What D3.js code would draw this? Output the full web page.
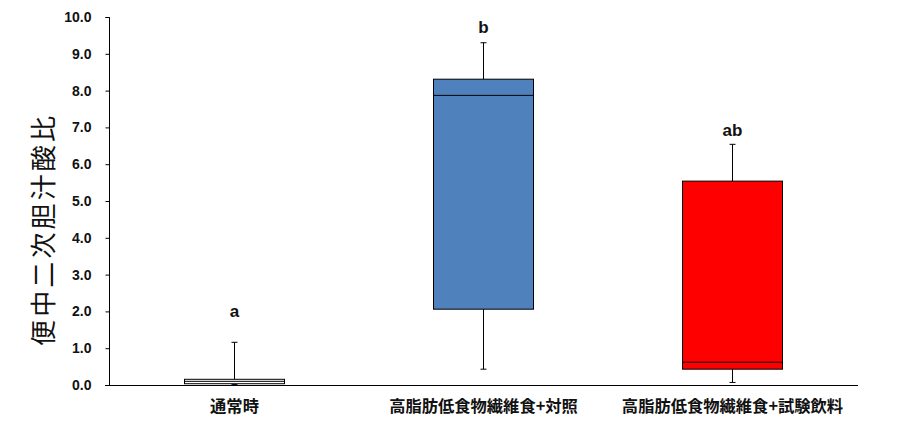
<!DOCTYPE html>
<html><head><meta charset="utf-8">
<script src="https://cdn.jsdelivr.net/npm/d3@7"></script>
<style>body{margin:0;background:#fff}svg{display:block}</style>
</head><body>
<svg id="c" width="906" height="445"></svg>
<script>
const categories = ["通常時", "高脂肪低食物繊維食+対照", "高脂肪低食物繊維食+試験飲料"];
const whiskerLow = [0.01, 0.43, 0.07];
const q1 = [0.035, 2.06, 0.43];
const median = [0.10, 7.87, 0.62];
const q3 = [0.155, 8.31, 5.54];
const whiskerHigh = [1.16, 9.30, 6.54];
const fills = ["#ffffff", "#4F81BD", "#FF0000"];
const sigLetters = ["a", "b", "ab"];
const sigLetterY = [1.86, 9.56, 6.77];
const yTicks = [0,1,2,3,4,5,6,7,8,9,10];
const yLabel = "便中二次胆汁酸比";

const svg = d3.select("#c");
const x = d3.scaleBand().domain(categories).range([109.5, 856.5]).paddingInner(0).paddingOuter(0);
const y = d3.scaleLinear().domain([0, 10]).range([385, 17]);
const boxW = 100, capW = 6;

const yAxis = d3.axisLeft(y).tickValues(yTicks).tickFormat(d3.format(".1f")).tickSize(4).tickPadding(14);
const gy = svg.append("g").attr("transform", "translate(109.5,0)").call(yAxis);
gy.select(".domain").attr("d", "M-4,17.5H0V385.5");
gy.selectAll("text").attr("font-family", "Arial, 'Liberation Sans', sans-serif").attr("font-weight", "bold").attr("font-size", 14).attr("fill", "#111");
gy.selectAll("line,path").attr("stroke", "#000");

svg.append("line").attr("x1", 105).attr("x2", 858).attr("y1", 385.5).attr("y2", 385.5).attr("stroke", "#000");

const data = categories.map((c, i) => ({c, lo: whiskerLow[i], q1: q1[i], med: median[i], q3: q3[i], hi: whiskerHigh[i], fill: fills[i], letter: sigLetters[i], ly: sigLetterY[i]}));

const g = svg.append("g");
data.forEach(d => {
  const cx = Math.round(x(d.c) + x.bandwidth() / 2) + 0.5;
  g.append("line").attr("x1", cx).attr("x2", cx).attr("y1", y(d.q3)).attr("y2", y(d.hi)).attr("stroke", "#000");
  g.append("line").attr("x1", cx).attr("x2", cx).attr("y1", y(d.q1)).attr("y2", y(d.lo)).attr("stroke", "#000");
  g.append("line").attr("x1", cx - capW/2).attr("x2", cx + capW/2).attr("y1", y(d.hi)).attr("y2", y(d.hi)).attr("stroke", "#000");
  g.append("line").attr("x1", cx - capW/2).attr("x2", cx + capW/2).attr("y1", y(d.lo)).attr("y2", y(d.lo)).attr("stroke", "#000");
  g.append("rect").attr("x", cx - boxW/2).attr("width", boxW).attr("y", y(d.q3)).attr("height", y(d.q1) - y(d.q3))
    .attr("fill", d.fill).attr("stroke", "#000").attr("stroke-width", 1);
  g.append("line").attr("x1", cx - boxW/2).attr("x2", cx + boxW/2).attr("y1", y(d.med)).attr("y2", y(d.med)).attr("stroke", "#000");
  g.append("text").attr("x", cx).attr("y", y(d.ly)).attr("text-anchor", "middle")
    .attr("font-family", "Arial, 'Liberation Sans', sans-serif").attr("font-weight", "bold").attr("font-size", 17).attr("fill", "#111").text(d.letter);
  g.append("text").attr("x", cx).attr("y", 412).attr("text-anchor", "middle")
    .attr("font-family", "'Noto Sans CJK JP', sans-serif").attr("font-weight", "bold").attr("font-size", 16.3).attr("fill", "#111").text(d.c);
});

svg.append("text").attr("transform", "translate(53,231) rotate(-90)").attr("text-anchor", "middle")
  .attr("font-family", "'Noto Sans CJK JP', sans-serif").attr("font-size", 26).attr("fill", "#111")
  .attr("textLength", 230).attr("lengthAdjust", "spacing").text(yLabel);
</script>
</body></html>
